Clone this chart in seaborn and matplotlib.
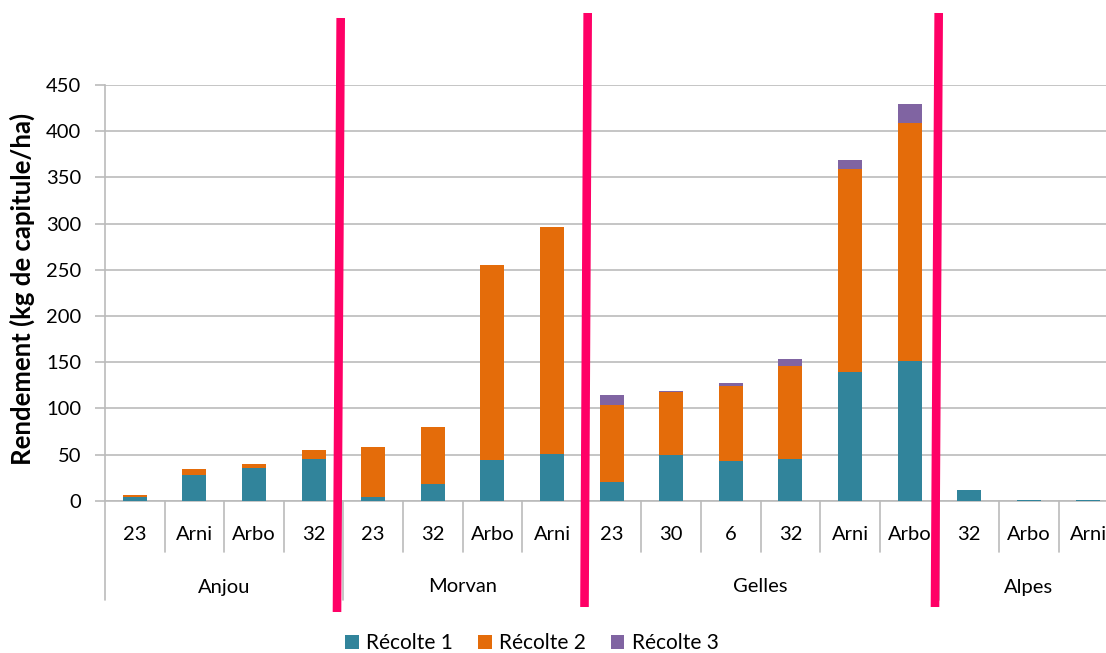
import matplotlib
matplotlib.use("Agg")
import matplotlib.pyplot as plt
from matplotlib.lines import Line2D
from matplotlib.patches import Patch
import matplotlib.transforms as mtransforms
import pandas as pd
import seaborn as sns

# Yield per plot (kg de capitule / ha), three successive harvests
sites = ["Anjou"] * 4 + ["Morvan"] * 4 + ["Gelles"] * 6 + ["Alpes"] * 3
varieties = ["23", "Arni", "Arbo", "32",
             "23", "32", "Arbo", "Arni",
             "23", "30", "6", "32", "Arni", "Arbo",
             "32", "Arbo", "Arni"]
recolte1 = [4, 27.5, 35.7, 45, 4.3, 17.7, 44, 50.6, 20.6, 49, 43.3, 45, 139, 151.3, 11.6, 1, 1]
recolte2 = [2.6, 6.5, 4.3, 9.6, 54.2, 62.4, 211.2, 245.7, 83, 68.4, 81.2, 101.2, 220.1, 257.3, 0, 0, 0]
recolte3 = [0, 0, 0, 0, 0, 0, 0, 0, 10.8, 1.7, 2.9, 6.8, 9.8, 20.9, 0, 0, 0]
series_names = ["Récolte 1", "Récolte 2", "Récolte 3"]
colors = ["#31849B", "#E46C0A", "#8064A2"]

df = pd.DataFrame({"site": sites, "variete": varieties,
                   "r1": recolte1, "r2": recolte2, "r3": recolte3})
df["key"] = df["site"] + "|" + df["variete"] + "|" + df.index.astype(str)
df["c1"] = df["r1"]
df["c2"] = df["r1"] + df["r2"]
df["c3"] = df["r1"] + df["r2"] + df["r3"]
order = list(df["key"])

sns.set_theme(style="white")
plt.rcParams["font.family"] = ["Lato", "DejaVu Sans"]
plt.rcParams["text.color"] = "black"

W, H = 1106, 653
fig = plt.figure(figsize=(W / 100, H / 100), dpi=100)

x0_px, x1_px = 105, 105 + 17 * 59.6
y0_px, y1_px = 500.7, 85
ax = fig.add_axes([x0_px / W, 1 - y0_px / H, (x1_px - x0_px) / W, (y0_px - y1_px) / H])

# stacked bars: draw cumulative totals from the top layer down
for col, color in zip(["c3", "c2", "c1"], colors[::-1]):
    sns.barplot(data=df, x="key", y=col, order=order, color=color, width=0.4,
                saturation=1, linewidth=0, ax=ax, zorder=3)

ax.set_xlim(-0.5, 16.5)
ax.set_ylim(0, 450)
ax.set_yticks(range(0, 451, 50))
ax.yaxis.grid(True, color="#BBBBBB", linewidth=1.2, zorder=0)
ax.set_axisbelow(True)
for s in ["top", "right", "bottom"]:
    ax.spines[s].set_visible(False)
ax.spines["left"].set_color("#BBBBBB")
ax.spines["left"].set_linewidth(1.2)
ax.tick_params(axis="y", which="major", left=True, length=7, width=1.2, color="#BBBBBB",
               labelsize=14.5, pad=10, labelcolor="black")
ax.set_xticks([])
ax.set_xlabel("")
ax.set_ylabel("")

trans = mtransforms.blended_transform_factory(ax.transData, ax.transAxes)
ax_h = y0_px - y1_px
cat_bottom = -(552 - y0_px) / ax_h
grp_bottom = -(600 - y0_px) / ax_h

# two-level category axis
for i, v in enumerate(varieties):
    ax.text(i, -(535 - y0_px) / ax_h, v, transform=trans, ha="center", va="center",
            fontsize=14.5, clip_on=False)
group_edges = [-0.5]
for i in range(1, len(sites)):
    if sites[i] != sites[i - 1]:
        group_edges.append(i - 0.5)
group_edges.append(len(sites) - 0.5)
for i in range(1, len(sites)):
    b = i - 0.5
    bottom = grp_bottom if b in group_edges else cat_bottom
    ax.add_line(Line2D([b, b], [0, bottom], transform=trans, color="#BBBBBB",
                       linewidth=1.2, clip_on=False))
ax.add_line(Line2D([-0.5, -0.5], [0, grp_bottom], transform=trans, color="#BBBBBB",
                   linewidth=1.2, clip_on=False))
ax.add_line(Line2D([-0.5, 16.5], [0, 0], transform=trans, color="#BBBBBB",
                   linewidth=1.2, clip_on=False, zorder=2))
for a, b in zip(group_edges[:-1], group_edges[1:]):
    ax.text((a + b) / 2, -(587 - y0_px) / ax_h, sites[int(a + 0.5)], transform=trans,
            ha="center", va="center", fontsize=14.5, clip_on=False)

fig.text(22 / W, 1 - 289 / H, "Rendement (kg de capitule/ha)", rotation=90,
         ha="center", va="center", fontsize=18.5, fontweight="bold")

# hand-drawn separators between regions
for (xa, ya), (xb, yb) in [((340.7, 18), (337, 612)),
                           ((587.7, 13), (584.5, 607)),
                           ((938.7, 13), (935, 607))]:
    fig.add_artist(Line2D([xa / W, xb / W], [1 - ya / H, 1 - yb / H],
                          transform=fig.transFigure, color="#FF0066",
                          linewidth=6.2, solid_capstyle="butt", zorder=10))

handles = [Patch(facecolor=c, edgecolor="none") for c in colors]
fig.legend(handles, series_names, loc="center", bbox_to_anchor=(532 / W, 1 - 643 / H),
           ncol=3, frameon=False, fontsize=15, handlelength=0.65, handleheight=0.65,
           handletextpad=0.35, columnspacing=1.2)

fig.savefig("out.png", dpi=100)
